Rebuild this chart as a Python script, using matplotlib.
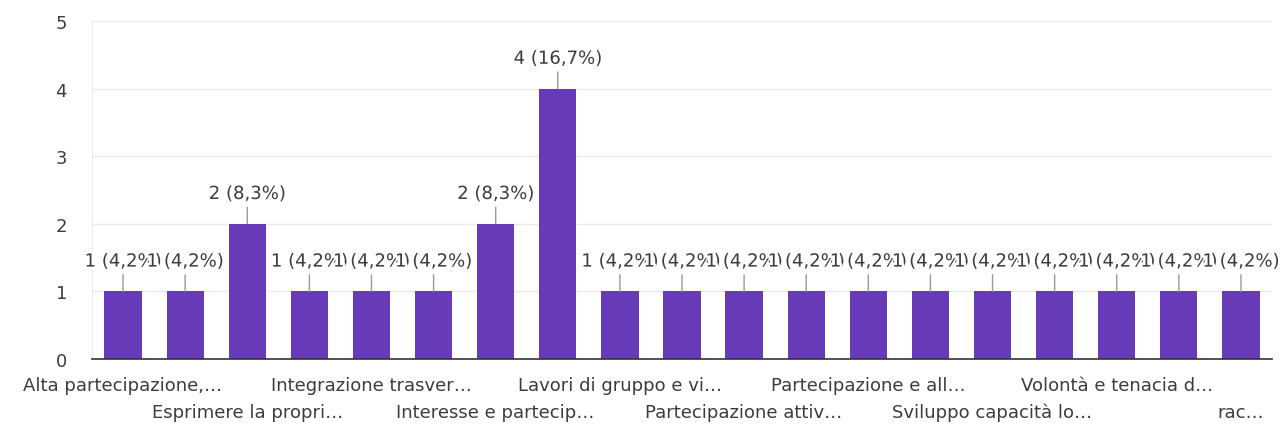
import numpy as np
import matplotlib.pyplot as plt
import matplotlib.patheffects as pe

plt.rcParams['font.family'] = ['DejaVu Sans']

# risposte per categoria (24 risposte in totale)
counts = [1, 1, 2, 1, 1, 1, 2, 4, 1, 1, 1, 1, 1, 1, 1, 1, 1, 1, 1]
total = sum(counts)

# etichette visibili sull'asse x (una barra su due, su due righe alternate)
row1_labels = ['Alta partecipazione,…', 'Integrazione trasver…',
               'Lavori di gruppo e vi…', 'Partecipazione e all…',
               'Volontà e tenacia d…']
row2_labels = ['Esprimere la propri…', 'Interesse e partecip…',
               'Partecipazione attiv…', 'Sviluppo capacità lo…', 'rac…']

bar_color = '#673ab7'
text_color = '#3c3c3c'
fs = 13

fig = plt.figure(figsize=(12.88, 4.31), dpi=100)
ax = fig.add_axes([92/1288, 71/431, 1180/1288, 338/431])

x = np.arange(len(counts))
ax.bar(x, counts, width=0.6, color=bar_color, zorder=2)

ax.set_xlim(-0.5, len(counts) - 0.5)
ax.set_ylim(0, 5)
ax.set_yticks(range(6))
ax.grid(axis='y', color='#ebebeb', linewidth=1, zorder=0)
for s in ['top', 'right']:
    ax.spines[s].set_visible(False)
ax.spines['left'].set_color('#ebebeb')
ax.spines['bottom'].set_color('#333333')
ax.spines['bottom'].set_linewidth(1.2)
ax.spines['bottom'].set_zorder(3)

# prima riga sui tick principali, seconda sui secondari
ax.set_xticks(x[::4])
ax.set_xticklabels(row1_labels, fontsize=fs, color=text_color, va='baseline')
ax.set_xticks(x[2::4], minor=True)
ax.set_xticklabels(row2_labels, minor=True, fontsize=fs, color=text_color,
                   va='baseline')
ax.tick_params(axis='x', which='major', length=0, pad=22)
ax.tick_params(axis='x', which='minor', length=0, pad=42)
ax.tick_params(axis='y', length=0, pad=18, labelsize=fs, labelcolor=text_color)

# valori sopra le barre, ciascuno con alone bianco sopra il precedente
for i, c in enumerate(counts):
    pct = '{:.1f}'.format(100 * c / total).replace('.', ',')
    ax.annotate('{} ({}%)'.format(c, pct), xy=(i, c), xytext=(0, 15),
                textcoords='offset points', ha='center', va='bottom',
                fontsize=fs, color=text_color, zorder=5 + i,
                annotation_clip=False,
                path_effects=[pe.withStroke(linewidth=4, foreground='white')],
                arrowprops=dict(arrowstyle='-', color='#999999', lw=1,
                                shrinkA=1, shrinkB=0))

fig.savefig('out.png', dpi=100)
